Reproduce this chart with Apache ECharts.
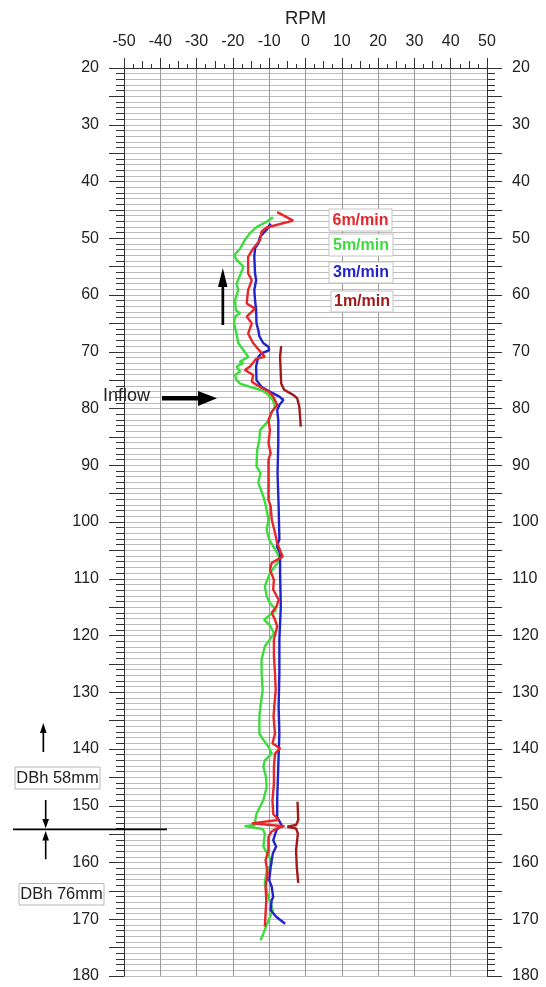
<!DOCTYPE html>
<html>
<head>
<meta charset="utf-8">
<script src="https://cdn.jsdelivr.net/npm/echarts@6/dist/echarts.min.js"></script>
<style>
html,body{margin:0;padding:0;background:#fff;}
#chart{width:546px;height:987px;}
</style>
</head>
<body>
<div id="chart"></div>
<script>
// ---- Data (depth in m, RPM) ----
const depth6 = [45.4, 46.9, 48.1, 48.8, 50.3, 51.8, 53.3, 56.2, 57.4, 59.1, 61.5, 62.4, 63.8, 65.0, 66.8, 68.5, 70.9, 71.2, 72.6, 73.2, 74.1, 75.3, 76.2, 77.0, 77.9, 79.4, 80.6, 82.0, 83.8, 86.1, 87.9, 89.0, 91.4, 96.1, 97.2, 99.6, 101.9, 103.7, 106.1, 107.2, 108.4, 110.2, 111.9, 113.7, 114.9, 116.0, 117.2, 118.4, 120.7, 123.7, 126.6, 129.6, 132.5, 134.3, 137.3, 139.0, 139.9, 140.8, 143.1, 146.1, 149.0, 151.4, 152.5, 153.1, 153.3, 153.6, 154.0, 154.6, 155.5, 157.8, 159.6, 161.9, 164.3, 166.6, 169.0, 171.3];
const rpm6 = [-7.8, -3.4, -10.7, -12.1, -12.5, -14.4, -15.8, -15.8, -14.8, -15.8, -16.2, -13.9, -16.2, -14.8, -15.8, -14.4, -11.2, -13.5, -15.3, -16.7, -14.4, -14.8, -12.5, -10.2, -8.9, -7.8, -9.3, -10.2, -9.8, -10.2, -9.6, -10.2, -10.2, -10.2, -9.6, -9.3, -8.4, -7.8, -6.3, -9.3, -9.8, -8.7, -8.9, -7.4, -8.0, -9.3, -8.4, -7.8, -8.7, -8.7, -8.4, -8.2, -8.6, -8.8, -8.4, -9.1, -7.0, -8.4, -8.7, -8.7, -9.1, -8.9, -7.5, -14.8, -14.5, -5.8, -8.0, -9.4, -10.2, -10.2, -11.0, -10.4, -11.0, -10.8, -11.0, -11.2];

const depth5 = [46.3, 47.1, 48.0, 49.1, 50.3, 51.8, 53.0, 53.8, 55.0, 56.8, 58.0, 59.1, 60.9, 62.7, 63.2, 63.8, 65.0, 66.8, 68.5, 69.7, 70.9, 71.8, 72.0, 72.6, 73.5, 74.1, 75.0, 75.6, 76.2, 76.7, 77.3, 78.5, 79.7, 80.6, 82.0, 83.8, 85.5, 87.3, 90.2, 91.4, 93.1, 95.5, 97.2, 99.6, 101.4, 103.1, 105.5, 106.6, 109.0, 111.3, 113.1, 114.3, 115.5, 117.2, 118.4, 119.6, 120.7, 121.9, 124.3, 126.6, 129.6, 132.5, 134.3, 137.3, 138.4, 139.6, 140.8, 142.0, 143.1, 144.9, 146.7, 149.0, 151.4, 152.8, 153.4, 153.6, 153.9, 154.1, 154.9, 157.2, 159.0, 160.2, 161.4, 163.7, 166.6, 168.4, 170.2, 172.5, 173.7];
const rpm5 = [-9.0, -10.7, -13.4, -15.3, -16.7, -18.0, -19.6, -19.0, -17.1, -18.2, -19.0, -18.5, -19.4, -19.2, -18.0, -19.4, -19.7, -19.0, -18.5, -17.1, -15.8, -18.2, -17.1, -19.0, -18.0, -19.4, -19.0, -18.0, -15.3, -12.5, -10.7, -9.0, -8.4, -9.3, -10.0, -12.5, -12.7, -13.3, -13.5, -12.4, -13.0, -11.6, -10.9, -10.2, -10.7, -10.0, -7.8, -7.0, -9.8, -11.2, -10.7, -9.8, -8.1, -11.4, -9.6, -8.7, -9.8, -11.2, -12.1, -12.1, -11.8, -12.4, -12.7, -12.7, -11.6, -10.2, -9.3, -11.2, -11.6, -10.9, -10.7, -11.6, -13.5, -13.9, -14.0, -16.8, -16.6, -11.8, -11.2, -11.6, -10.0, -9.3, -10.7, -11.2, -10.0, -9.0, -10.2, -11.6, -12.4];

const depth3 = [47.4, 48.5, 49.7, 50.9, 51.8, 53.2, 56.2, 57.4, 59.1, 60.9, 62.6, 65.0, 66.2, 67.3, 68.5, 69.1, 69.7, 70.3, 70.9, 72.6, 75.0, 76.2, 76.7, 77.3, 77.9, 78.5, 79.4, 80.3, 82.0, 83.8, 86.1, 91.4, 97.2, 103.1, 104.3, 105.5, 109.0, 114.9, 120.7, 126.6, 132.5, 137.3, 143.1, 149.0, 152.0, 153.4, 154.3, 156.1, 157.2, 158.4, 160.8, 163.1, 164.3, 166.1, 166.6, 168.4, 169.6, 170.8];
const rpm3 = [-9.6, -10.7, -12.5, -13.0, -13.9, -14.1, -13.9, -13.6, -14.1, -13.9, -13.6, -13.5, -13.0, -12.7, -11.6, -10.2, -10.0, -12.1, -13.0, -13.6, -13.5, -12.1, -10.7, -9.0, -7.2, -6.1, -7.2, -7.8, -7.5, -7.5, -7.5, -7.7, -7.4, -7.2, -7.9, -7.0, -7.0, -6.8, -7.2, -7.2, -7.4, -7.2, -7.5, -7.8, -7.8, -6.6, -8.0, -8.9, -8.1, -9.0, -9.6, -10.0, -9.3, -8.9, -9.3, -9.6, -8.0, -5.6];

const depth1a = [69.0, 70.9, 75.6, 76.7, 77.6, 78.2, 79.7, 83.2];
const rpm1a = [-6.7, -7.0, -6.7, -5.9, -3.4, -2.3, -1.7, -1.3];
const depth1b = [149.3, 152.5, 153.4, 153.7, 154.0, 154.9, 157.8, 160.8, 163.6];
const rpm1b = [-2.2, -2.0, -2.6, -5.0, -2.6, -2.1, -2.6, -2.4, -2.0];

const legendLabels = ['6m/min', '5m/min', '3m/min', '1m/min'];
const axisName = 'RPM';
const rpmMin = -50, rpmMax = 50, rpmStep = 10;
const depthMin = 20, depthMax = 180, depthStep = 10;

// ---- Styles ----
const FONT = '"Liberation Sans", Arial, Helvetica, sans-serif';
const C6 = '#e5262a', C5 = '#3ddc3d', C3 = '#2323cc', C1 = '#a01a1a';
const pairs = (d, r) => d.map((v, i) => [r[i], v]);

const chart = echarts.init(document.getElementById('chart'), null, {renderer: 'canvas'});

const tickCol = '#333';
const yBase = (pos, split) => ({
  type: 'value', position: pos, inverse: true, min: depthMin, max: depthMax, interval: depthStep / 2,
  axisLine: {show: true, onZero: false, lineStyle: {color: tickCol, width: 1}},
  axisTick: {show: true, length: 15, lineStyle: {color: tickCol}},
  minorTick: {show: true, splitNumber: 5, length: 8, lineStyle: {color: tickCol}},
  axisLabel: {show: true, margin: 25, fontSize: 16, color: '#222', fontFamily: FONT,
    formatter: v => (v % depthStep === 0 ? String(v) : '')},
  splitLine: {show: split, lineStyle: {color: '#bdbdbd', width: 1}},
  minorSplitLine: {show: split, lineStyle: {color: '#bdbdbd', width: 1}}
});

const lineSeries = (name, data, color, z) => ({
  name, type: 'line', xAxisIndex: 0, yAxisIndex: 0, data,
  showSymbol: false, symbol: 'none', smooth: false, z,
  lineStyle: {color, width: 2.4}, itemStyle: {color}, emphasis: {disabled: true}
});

const ZG = 100;
const legendBox = (i, x, y, w, h, color) => ({
  type: 'group', z: ZG, children: [
    {type: 'rect', z: ZG, shape: {x, y, width: w, height: h}, style: {fill: '#fff', stroke: '#c4c4c4', lineWidth: 1}},
    {type: 'text', z: ZG + 1, x: x + w / 2, y: y + h / 2 + 0.5, style: {text: legendLabels[i], fill: color,
      font: 'bold 16px ' + FONT, align: 'center', verticalAlign: 'middle', textAlign: 'center', textVerticalAlign: 'middle'}}
  ]
});

const txt = (t, x, y, size, align) => ({
  type: 'text', z: ZG + 1, x, y, style: {text: t, fill: '#222', font: size + 'px ' + FONT,
    align: align || 'left', verticalAlign: 'middle', textAlign: align || 'left', textVerticalAlign: 'middle'}
});
const poly = pts => ({type: 'polygon', z: ZG, shape: {points: pts}, style: {fill: '#000'}});

const option = {
  animation: false,
  backgroundColor: '#fff',
  grid: {left: 124, right: 59, top: 68, bottom: 11, containLabel: false},
  xAxis: [
    {
      type: 'value', position: 'top', min: rpmMin, max: rpmMax, interval: rpmStep,
      name: axisName, nameLocation: 'middle', nameGap: 40,
      nameTextStyle: {fontSize: 18.5, color: '#222', fontFamily: FONT},
      axisLine: {show: true, onZero: false, lineStyle: {color: tickCol, width: 1}},
      axisTick: {show: true, length: 10, lineStyle: {color: tickCol}},
      minorTick: {show: true, splitNumber: 4, length: 4, lineStyle: {color: tickCol}},
      axisLabel: {margin: 18, fontSize: 16, color: '#222', fontFamily: FONT},
      splitLine: {show: true, lineStyle: {color: '#9a9a9a', width: 1}}
    },
    {
      type: 'value', position: 'top', min: rpmMin, max: rpmMax, interval: rpmStep / 2,
      axisLine: {show: false, onZero: false},
      axisTick: {show: true, length: 7, lineStyle: {color: tickCol}},
      axisLabel: {show: false}, splitLine: {show: false}
    }
  ],
  yAxis: [yBase('left', true), yBase('right', false)],
  series: [
    lineSeries(legendLabels[1], pairs(depth5, rpm5), C5, 2),
    lineSeries(legendLabels[2], pairs(depth3, rpm3), C3, 3),
    lineSeries(legendLabels[0], pairs(depth6, rpm6), C6, 4),
    lineSeries(legendLabels[3], pairs(depth1a, rpm1a), C1, 5),
    lineSeries(legendLabels[3] + ' ', pairs(depth1b, rpm1b), C1, 5)
  ],
  graphic: [
    legendBox(0, 329, 209, 63, 22, C6),
    legendBox(1, 329, 234, 64, 22, C5),
    legendBox(2, 329, 262, 64, 21, C3),
    legendBox(3, 331, 291, 62, 21, C1),
    // Inflow label + arrow
    txt('Inflow', 103, 396, 18, 'left'),
    poly([[162, 396], [198, 396], [198, 391], [217, 398.3], [198, 406], [198, 400.6], [162, 400.6]]),
    // vertical up arrow (middle)
    poly([[221.5, 325], [221.5, 287], [218, 287], [222.8, 268], [227.5, 287], [224.2, 287], [224.2, 325]]),
    // bottom-left markers
    poly([[42.5, 752], [42.5, 733], [40, 733], [43.3, 723], [46.6, 733], [44.2, 733], [44.2, 752]]),
    poly([[44.9, 800], [44.9, 819], [42.3, 819], [45.7, 828.3], [49, 819], [46.5, 819], [46.5, 800]]),
    {type: 'line', z: ZG, shape: {x1: 13, y1: 829.3, x2: 167, y2: 829.3}, style: {stroke: '#000', lineWidth: 1.8}},
    poly([[44.9, 859.3], [44.9, 840.5], [42.3, 840.5], [45.7, 831], [49, 840.5], [46.5, 840.5], [46.5, 859.3]]),
    {type: 'rect', z: ZG, shape: {x: 15, y: 767, width: 85, height: 22}, style: {fill: '#fff', stroke: '#b8b8b8', lineWidth: 1}},
    txt('DBh 58mm', 57.5, 778, 16.5, 'center'),
    {type: 'rect', z: ZG, shape: {x: 19, y: 883.5, width: 85, height: 21.5}, style: {fill: '#fff', stroke: '#b8b8b8', lineWidth: 1}},
    txt('DBh 76mm', 61.5, 894.5, 16.5, 'center')
  ]
};
chart.setOption(option);
</script>
</body>
</html>
